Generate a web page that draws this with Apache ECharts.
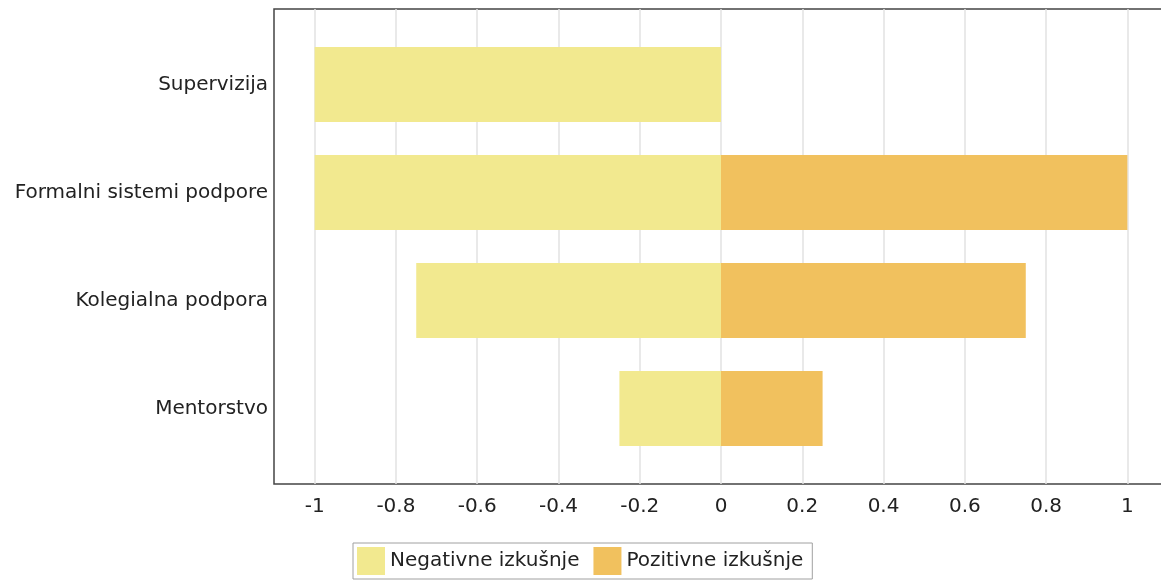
<!DOCTYPE html>
<html>
<head>
<meta charset="utf-8">
<script src="https://cdn.jsdelivr.net/npm/echarts@6/dist/echarts.min.js"></script>
<style>html,body{margin:0;padding:0;background:#fff;overflow:hidden}#main{width:1170px;height:581px}</style>
</head>
<body>
<div id="main"></div>
<script>
var categories = ['Mentorstvo', 'Kolegialna podpora', 'Formalni sistemi podpore', 'Supervizija'];
var negativeValues = [-0.25, -0.75, -1, -1];
var positiveValues = [0.25, 0.75, 1, 0];
var seriesNames = ['Negativne izkušnje', 'Pozitivne izkušnje'];
var xTickValues = [-1, -0.8, -0.6, -0.4, -0.2, 0, 0.2, 0.4, 0.6, 0.8, 1];
var xMin = -1.1, xMax = 1.1;

var font = 'DejaVu Sans';
var chart = echarts.init(document.getElementById('main'));
chart.setOption({
  animation: false,
  legend: {
    data: seriesNames,
    left: 353, top: 543,
    padding: [4, 9, 4, 4],
    itemWidth: 28, itemHeight: 28, itemGap: 14,
    borderColor: '#a0a0a0', borderWidth: 1,
    icon: 'rect',
    textStyle: {fontFamily: font, fontSize: 20, color: '#222'}
  },
  grid: [
    {left: 274, width: 894, top: 30.5, height: 432, show: false},
    {left: 274, width: 894, top: 9, height: 475, show: true, borderColor: '#444', borderWidth: 1.5, z: 0}
  ],
  xAxis: [
    {gridIndex: 0, type: 'value', min: xMin, max: xMax, show: false},
    {gridIndex: 1, type: 'value', min: xMin, max: xMax,
     axisLine: {show: false}, axisTick: {show: false, customValues: xTickValues},
     splitLine: {show: true, lineStyle: {color: '#e2e2e2', width: 1.5}},
     axisLabel: {customValues: xTickValues, fontFamily: font, fontSize: 20, color: '#222', margin: 13}}
  ],
  yAxis: [
    {gridIndex: 0, type: 'category', data: categories,
     axisLine: {show: false},
     axisTick: {show: true, alignWithLabel: true, length: 4, lineStyle: {color: '#444'}},
     axisLabel: {fontFamily: font, fontSize: 20, color: '#222', margin: 6}},
    {gridIndex: 1, type: 'value', show: false}
  ],
  series: [
    {name: seriesNames[0], type: 'bar', stack: 's', xAxisIndex: 0, yAxisIndex: 0,
     data: negativeValues, barWidth: 75, itemStyle: {color: '#F2E98F'}},
    {name: seriesNames[1], type: 'bar', stack: 's', xAxisIndex: 0, yAxisIndex: 0,
     data: positiveValues, barWidth: 75, itemStyle: {color: '#F1C15E'}}
  ]
});
</script>
</body>
</html>
